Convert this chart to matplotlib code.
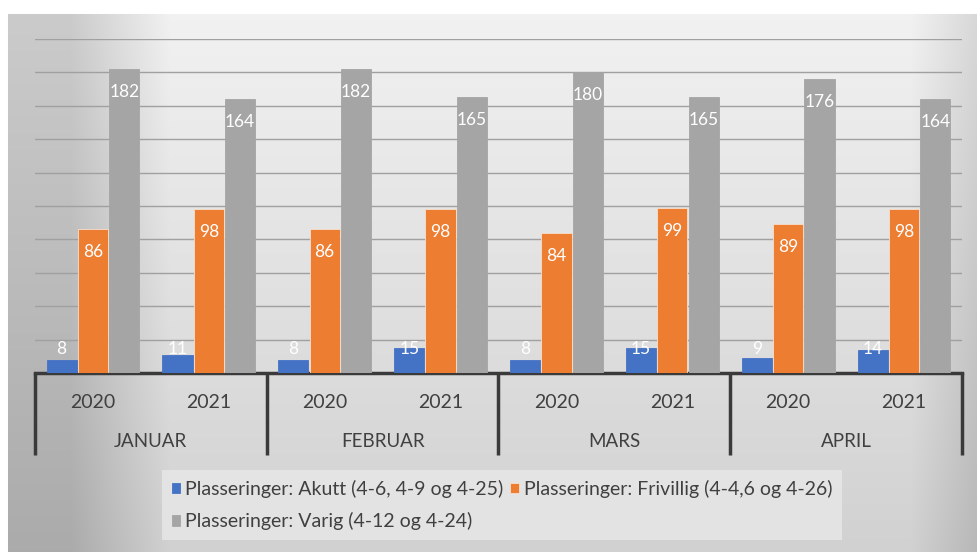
import numpy as np
import matplotlib
matplotlib.use("Agg")
import matplotlib.pyplot as plt

plt.rcParams['font.family'] = ['Lato', 'DejaVu Sans']

months = ['JANUAR', 'FEBRUAR', 'MARS', 'APRIL']
years = ['2020', '2021']
series_names = ['Plasseringer: Akutt (4-6, 4-9 og 4-25)',
                'Plasseringer: Frivillig (4-4,6 og 4-26)',
                'Plasseringer: Varig (4-12 og 4-24)']
akutt = [8, 11, 8, 15, 8, 15, 9, 14]
frivillig = [86, 98, 86, 98, 84, 99, 89, 98]
varig = [182, 164, 182, 165, 180, 165, 176, 164]
colors = ['#4472C4', '#ED7D31', '#A5A5A5']

W, H = 978, 552
fig = plt.figure(figsize=(W / 100, H / 100), dpi=100, facecolor='white')

# gradient background of the chart area
bg = fig.add_axes([0, 0, 1, 1], zorder=-10)
bg.set_axis_off()
xx, yy = np.meshgrid(np.arange(W), np.arange(H))
b = 0.95 - 0.15 * np.clip((np.abs(xx - 540) - 370) / 100, 0, 1) - 0.13 * (yy / H)
img = np.dstack([b, b, b])
img[:14, :, :] = 1.0
img[:, :8, :] = 1.0
bg.imshow(img, aspect='auto', extent=(0, 1, 0, 1), origin='upper')
bg.set_xlim(0, 1)
bg.set_ylim(0, 1)

ax = fig.add_axes([35 / W, (H - 373) / H, (962 - 35) / W, (373 - 39) / H])
ax.patch.set_alpha(0)

x = np.arange(len(akutt))
bw = 0.26
step = 0.27
data = [akutt, frivillig, varig]
for i, (vals, c, name) in enumerate(zip(data, colors, series_names)):
    pos = x + (i - 1) * step
    ax.bar(pos, vals, width=bw, color=c, label=name, zorder=3,
           edgecolor='#f6e0d0' if i == 1 else c, linewidth=0.6)
    for px, v in zip(pos, vals):
        if i == 0:
            ax.annotate(str(v), (px, 0), xytext=(0, 17), textcoords='offset points',
                        ha='center', va='center', color='white', fontsize=12.5, zorder=4)
        else:
            ax.annotate(str(v), (px, v), xytext=(0, -16.5), textcoords='offset points',
                        ha='center', va='center', color='white', fontsize=12.5, zorder=4)

ax.set_xlim(-0.5, len(akutt) - 0.5)
ax.set_ylim(0, 200)
ax.set_yticks(np.arange(20, 201, 20))
ax.yaxis.grid(True, color='#a0a0a0', linewidth=1, zorder=0)
ax.tick_params(left=False, labelleft=False, bottom=False, labelbottom=False)
for s in ['top', 'right', 'left']:
    ax.spines[s].set_visible(False)
ax.spines['bottom'].set_color('#3a3a3a')
ax.spines['bottom'].set_linewidth(2.5)

# two-level category axis
tr = ax.get_xaxis_transform()
for k in range(len(months) + 1):
    xb = k * len(years) - 0.5
    ax.plot([xb, xb], [0, -0.245], transform=tr, color='#3a3a3a', linewidth=2.5,
            clip_on=False, solid_capstyle='butt')
for j in range(len(akutt)):
    ax.text(j, -0.087, years[j % len(years)], transform=tr, ha='center', va='center',
            fontsize=14, color='#404040')
for m, name in enumerate(months):
    ax.text(m * len(years) + (len(years) - 1) / 2, -0.205, name, transform=tr,
            ha='center', va='center', fontsize=13.5, color='#404040')

handles, labels = ax.get_legend_handles_labels()
order = [0, 2, 1]
leg = fig.legend([handles[i] for i in order], [labels[i] for i in order],
                 ncol=2, loc='center', bbox_to_anchor=(502 / W, (H - 505) / H),
                 frameon=True, fontsize=14, handlelength=0.45, handleheight=0.45,
                 handletextpad=0.25, columnspacing=0.35, labelspacing=0.75,
                 borderpad=0.5, borderaxespad=0, fancybox=False, labelcolor='#404040')
leg.get_frame().set_facecolor('#e8e8e8')
leg.get_frame().set_edgecolor('none')
leg.get_frame().set_alpha(0.8)

fig.savefig('out.png', dpi=100, facecolor='white')
